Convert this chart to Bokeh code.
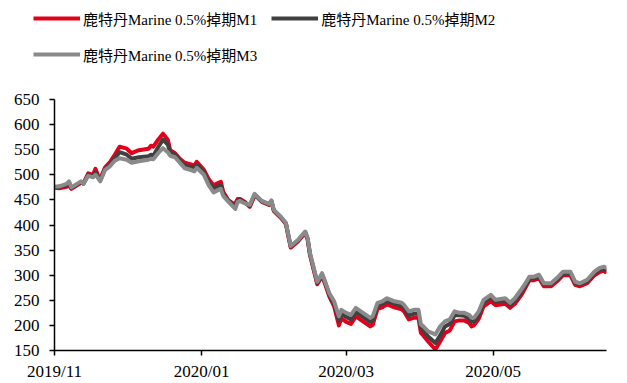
import pandas as pd
from bokeh.plotting import figure
from bokeh.layouts import column
from bokeh.models import (ColumnDataSource, Range1d, FixedTicker, DatetimeTickFormatter,
                          Legend, LegendItem)
from bokeh.embed import file_html
from bokeh.resources import INLINE

dates = [
    "2019-11-01", "2019-11-03", "2019-11-06", "2019-11-07", "2019-11-08", "2019-11-12",
    "2019-11-13", "2019-11-15", "2019-11-17", "2019-11-18", "2019-11-19", "2019-11-20",
    "2019-11-22", "2019-11-24", "2019-11-26", "2019-11-28", "2019-12-01", "2019-12-03",
    "2019-12-06", "2019-12-10", "2019-12-11", "2019-12-12", "2019-12-14", "2019-12-16",
    "2019-12-18", "2019-12-19", "2019-12-21", "2019-12-23", "2019-12-25", "2019-12-28",
    "2019-12-29", "2019-12-30", "2020-01-02", "2020-01-04", "2020-01-06", "2020-01-08",
    "2020-01-09", "2020-01-10", "2020-01-12", "2020-01-14", "2020-01-15", "2020-01-16",
    "2020-01-17", "2020-01-19", "2020-01-21", "2020-01-23", "2020-01-24", "2020-01-26",
    "2020-01-29", "2020-01-30", "2020-01-31", "2020-02-03", "2020-02-05", "2020-02-06",
    "2020-02-07", "2020-02-10", "2020-02-13", "2020-02-14", "2020-02-15", "2020-02-18",
    "2020-02-20", "2020-02-21", "2020-02-23", "2020-02-25", "2020-02-27", "2020-02-28",
    "2020-03-01", "2020-03-03", "2020-03-05", "2020-03-08", "2020-03-11", "2020-03-12",
    "2020-03-14", "2020-03-16", "2020-03-18", "2020-03-21", "2020-03-24", "2020-03-25",
    "2020-03-27", "2020-03-29", "2020-03-31", "2020-04-01", "2020-04-02", "2020-04-04",
    "2020-04-07", "2020-04-09", "2020-04-11", "2020-04-13", "2020-04-15", "2020-04-17",
    "2020-04-19", "2020-04-21", "2020-04-22", "2020-04-23", "2020-04-25", "2020-04-27",
    "2020-04-30", "2020-05-02", "2020-05-06", "2020-05-08", "2020-05-10", "2020-05-13",
    "2020-05-14", "2020-05-16", "2020-05-18", "2020-05-20", "2020-05-22", "2020-05-25",
    "2020-05-28", "2020-05-30", "2020-06-02", "2020-06-04", "2020-06-06", "2020-06-09",
    "2020-06-12", "2020-06-14", "2020-06-16", "2020-06-17",
]

m1 = [474, 473, 476, 479, 472, 484, 483, 503, 500, 512, 499, 492, 515, 525, 540, 556, 552, 543,
      549, 552, 558, 556, 570, 582, 570, 549, 543, 532, 524, 520, 518, 526, 510, 491, 479, 484,
      486, 466, 450, 443, 443, 452, 452, 446, 436, 458, 456, 446, 440, 447, 428, 414, 402, 378,
      355, 367, 384, 371, 340, 282, 298, 286, 258, 238, 200, 214, 207, 203, 218, 208, 198, 201,
      233, 236, 242, 236, 232, 228, 212, 215, 215, 185, 180, 168, 152, 168, 185, 190, 208, 210,
      210, 205, 198, 200, 213, 238, 248, 240, 243, 235, 243, 263, 272, 290, 290, 294, 278, 278,
      290, 300, 300, 281, 278, 284, 300, 306, 309, 304]

m2 = [475, 476, 480, 484, 474, 486, 482, 500, 497, 505, 496, 489, 512, 520, 533, 545, 540, 532,
      535, 537, 540, 538, 555, 570, 560, 545, 540, 528, 518, 515, 512, 520, 505, 484, 472, 478,
      479, 461, 449, 440, 438, 449, 450, 444, 438, 460, 456, 447, 441, 448, 429, 415, 403, 380,
      357, 369, 386, 373, 342, 285, 301, 289, 261, 243, 210, 223, 217, 212, 227, 217, 207, 210,
      240, 243, 249, 243, 239, 235, 220, 223, 223, 195, 190, 178, 165, 180, 198, 203, 220, 220,
      219, 213, 207, 208, 221, 246, 256, 247, 250, 241, 249, 269, 277, 294, 294, 298, 282, 282,
      294, 304, 304, 285, 282, 288, 304, 311, 313, 310]

m3 = [476, 477, 482, 487, 475, 487, 482, 498, 495, 500, 494, 487, 510, 517, 528, 533, 530, 524,
      527, 530, 532, 531, 543, 553, 545, 538, 535, 524, 513, 509, 507, 514, 500, 479, 465, 470,
      472, 458, 447, 437, 432, 446, 448, 443, 440, 462, 457, 448, 442, 449, 430, 416, 404, 381,
      358, 370, 387, 374, 344, 287, 304, 291, 264, 248, 218, 231, 225, 221, 235, 225, 215, 218,
      245, 248, 254, 248, 245, 241, 228, 231, 231, 202, 198, 188, 182, 198, 208, 212, 228, 225,
      225, 221, 215, 215, 228, 251, 261, 251, 254, 245, 254, 274, 281, 297, 297, 301, 284, 284,
      297, 307, 307, 287, 284, 291, 307, 314, 317, 314]

names = ["鹿特丹Marine 0.5%掉期M1", "鹿特丹Marine 0.5%掉期M2", "鹿特丹Marine 0.5%掉期M3"]
colors = ["#E2001A", "#404040", "#8A8A8A"]

tick_dates = ["2019-11-01", "2020-01-01", "2020-03-01", "2020-05-01"]
y_ticks = [150, 200, 250, 300, 350, 400, 450, 500, 550, 600, 650]

src = ColumnDataSource(dict(x=pd.to_datetime(dates), m1=m1, m2=m2, m3=m3))

FONT = "Liberation Serif, Noto Sans CJK SC"
x_start, x_end = pd.Timestamp("2019-11-01"), pd.Timestamp("2020-06-17")

# ---- legend strip (top) ----
LEG_H = 80
lf = figure(width=627, height=LEG_H, x_axis_type="datetime", output_backend="svg",
            toolbar_location=None, x_axis_location=None, y_axis_location=None,
            x_range=Range1d(x_start, x_end), y_range=Range1d(0, 1),
            min_border=0, min_border_left=0, min_border_right=0,
            min_border_top=0, min_border_bottom=0)
lf.frame_align = False
lf.outline_line_color = None
lf.xgrid.visible = False
lf.ygrid.visible = False
lf.border_fill_color = "white"

leg_r = []
for key, c in zip(["m1", "m2", "m3"], colors):
    leg_r.append(lf.line("x", key, source=src, line_color=c, line_width=4))

order = [0, 2, 1]  # column-major fill: row1 = M1, M2 ; row2 = M3
legend = Legend(items=[LegendItem(label=names[i], renderers=[leg_r[i]]) for i in order],
                location=(33, 15), ncols=2, spacing=14, padding=0, margin=0,
                glyph_width=47, glyph_height=22, label_height=22, label_standoff=3,
                label_text_font=FONT, label_text_font_size="15px",
                label_text_color="black", border_line_color=None,
                background_fill_alpha=0)
lf.add_layout(legend, "center")

# ---- main chart ----
p = figure(width=627, height=383 - LEG_H, x_axis_type="datetime", output_backend="svg",
           toolbar_location=None,
           x_range=Range1d(x_start, x_end), y_range=Range1d(150, 650),
           min_border_left=54, min_border_right=21, min_border_top=99 - LEG_H,
           min_border_bottom=32)
p.frame_align = False
p.outline_line_color = None
p.xgrid.visible = False
p.ygrid.visible = False
p.border_fill_color = "white"

for key, c in zip(["m1", "m2", "m3"], colors):
    p.line("x", key, source=src, line_color=c, line_width=4, line_join="round")

xt = [pd.Timestamp(d).value // 10**6 for d in tick_dates]
p.xaxis.ticker = FixedTicker(ticks=xt)
fmt = "%Y/%m"
p.xaxis.formatter = DatetimeTickFormatter(days=fmt, months=fmt, years=fmt, hours=fmt,
                                          minutes=fmt, seconds=fmt, milliseconds=fmt,
                                          microseconds=fmt, minsec=fmt, hourmin=fmt)
p.yaxis.ticker = FixedTicker(ticks=y_ticks)

for ax in (p.xaxis[0], p.yaxis[0]):
    ax.axis_line_color = "black"
    ax.axis_line_width = 1.5
    ax.major_tick_line_color = "black"
    ax.major_tick_line_width = 1.5
    ax.major_tick_in = 0
    ax.major_tick_out = 5
    ax.minor_tick_line_color = None
    ax.major_label_text_font = FONT
    ax.major_label_text_font_size = "17px"
    ax.major_label_text_color = "black"
p.yaxis.major_label_standoff = 10
p.xaxis.major_label_standoff = 6

layout = column(lf, p, spacing=0)
open("out.html", "w").write(file_html(layout, INLINE))
